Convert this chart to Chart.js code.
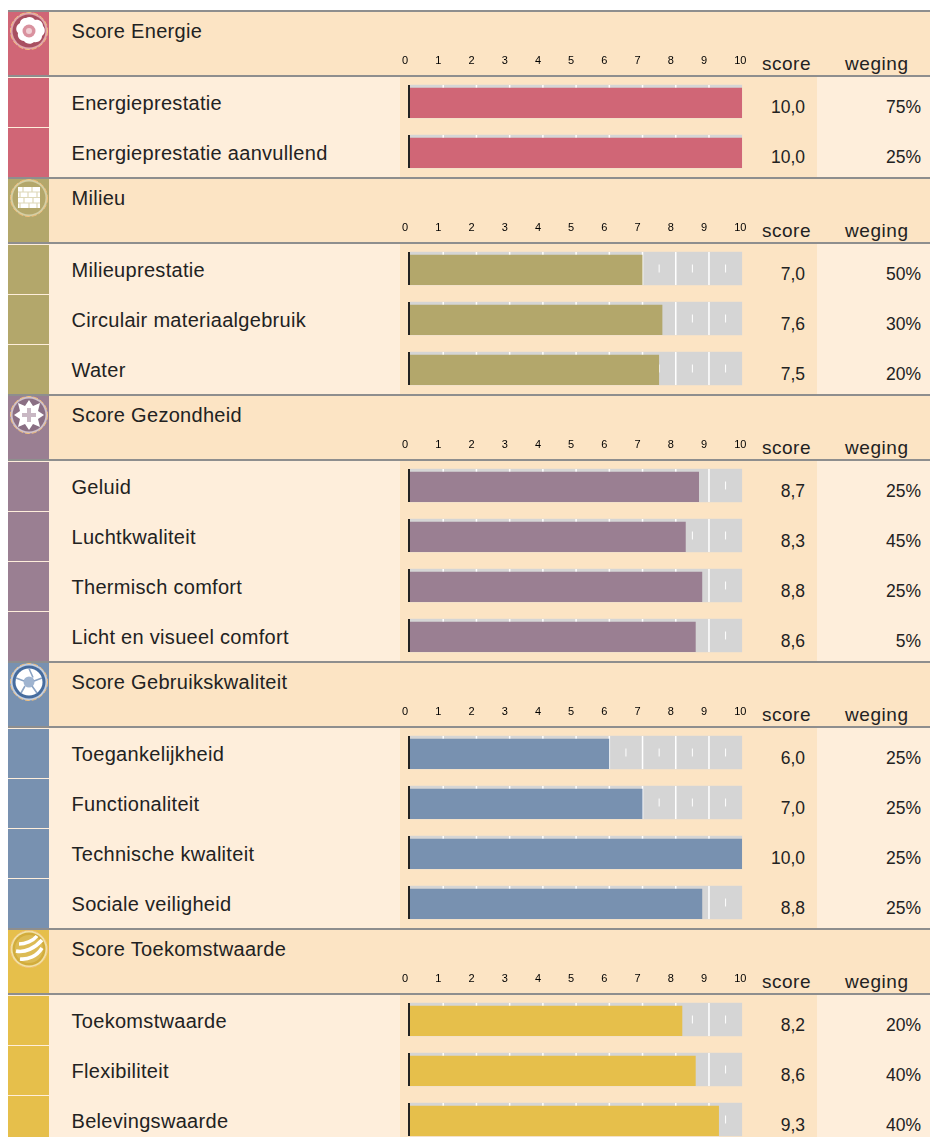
<!DOCTYPE html>
<html>
<head>
<meta charset="utf-8">
<style>
html, body { margin: 0; padding: 0; width: 930px; height: 1137px; overflow: hidden; background: #fff; }
body { position: relative; font-family: "Liberation Sans", Arial, sans-serif; color: #222; filter: blur(0.4px); }
.box, .txt, canvas, svg { position: absolute; }
.txt { white-space: nowrap; line-height: 22px; height: 22px; }
</style>
</head>
<body>
<script src="https://cdn.jsdelivr.net/npm/chart.js"></script>
<script>
const axisTicks = [0, 1, 2, 3, 4, 5, 6, 7, 8, 9, 10];

const titles = ['Score Energie', 'Milieu', 'Score Gezondheid', 'Score Gebruikskwaliteit', 'Score Toekomstwaarde'];
const colors = ['#d06676', '#b3a76b', '#9a7f92', '#7891b0', '#e6bf4b'];
const discs = ['#a84f60', '#b3a76b', '#8a6f84', '#466c9e', '#d2ac3c'];
const rings = ['#e0a6ae', '#d5cfa5', '#cfc2cc', '#c3cfe0', '#f1e2a6'];

const energieLabels = ['Energieprestatie', 'Energieprestatie aanvullend'];
const energieScores = [10.0, 10.0];
const energieWeights = [75, 25];

const milieuLabels = ['Milieuprestatie', 'Circulair materiaalgebruik', 'Water'];
const milieuScores = [7.0, 7.6, 7.5];
const milieuWeights = [50, 30, 20];

const gezondLabels = ['Geluid', 'Luchtkwaliteit', 'Thermisch comfort', 'Licht en visueel comfort'];
const gezondScores = [8.7, 8.3, 8.8, 8.6];
const gezondWeights = [25, 45, 25, 5];

const gebruikLabels = ['Toegankelijkheid', 'Functionaliteit', 'Technische kwaliteit', 'Sociale veiligheid'];
const gebruikScores = [6.0, 7.0, 10.0, 8.8];
const gebruikWeights = [25, 25, 25, 25];

const toekomstLabels = ['Toekomstwaarde', 'Flexibiliteit', 'Belevingswaarde'];
const toekomstScores = [8.2, 8.6, 9.3];
const toekomstWeights = [20, 40, 40];

const allLabels = [energieLabels, milieuLabels, gezondLabels, gebruikLabels, toekomstLabels];
const allScores = [energieScores, milieuScores, gezondScores, gebruikScores, toekomstScores];
const allWeights = [energieWeights, milieuWeights, gezondWeights, gebruikWeights, toekomstWeights];

const HEADER = 67, ROW = 50;
const TRACK = '#d5d5d5', PALE = '#feeedb', BAND = '#fce4c4';

function box(x, y, w, h, bg) {
  const d = document.createElement('div');
  d.className = 'box';
  d.style.cssText = `left:${x}px;top:${y}px;width:${w}px;height:${h}px;background:${bg}`;
  document.body.appendChild(d);
}

function text(str, x, y, size, align, spacing) {
  const d = document.createElement('div');
  d.className = 'txt';
  d.textContent = str;
  d.style.top = y + 'px';
  d.style.fontSize = size + 'px';
  if (spacing) d.style.letterSpacing = spacing + 'px';
  if (align === 'right') d.style.right = (930 - x) + 'px';
  else d.style.left = x + 'px';
  document.body.appendChild(d);
}

// the little round icons top left of every section
function icon(i, y) {
  const shapes = [
    '<path d="M17 7c3-2 7-1 9 2 4-1 8 2 8 6 3 3 2 8-1 10 0 4-4 7-8 6-3 3-8 2-10-1-4 0-7-4-6-8-3-3-2-8 2-10 0-3 3-5 6-5z" fill="#fff"/><circle cx="20" cy="20" r="6.5" fill="#d9929f"/><circle cx="20" cy="20" r="3" fill="#f0d0d5"/>',
    '<rect x="9" y="9" width="22" height="21" fill="#fff"/><g stroke="#ded8b8" stroke-width="1.2"><path d="M9 14h22M9 19.5h22M9 25h22M14 9v5M23 9v5M11 14v5.5M19 14v5.5M28 14v5.5M15 19.5v5.5M24 19.5v5.5M11 25v5M20 25v5M28 25v5"/></g>',
    '<path d="M20 5l4 6 7-3-2 8 6 4-6 4 2 8-7-3-4 6-4-6-7 3 2-8-6-4 6-4-2-8 7 3z" fill="#fff"/><path d="M18 13h4v5h5v4h-5v5h-4v-5h-5v-4h5z" fill="#c9b8c4"/>',
    '<circle cx="20" cy="20" r="13.5" fill="#fff"/><circle cx="20" cy="20" r="5.5" fill="#9fb4d0"/><path d="M20 6.5l4 9M33 16l-8 3M28 31l-5-7M12 31l4-7M7 16l8 3" stroke="#8aa3c4" stroke-width="1.6"/>',
    '<circle cx="20" cy="20" r="14" fill="#dcbb55"/><path d="M10 15c6 0 14-3 18-8M7 22c9 2 19-3 26-11M11 30c8 1 17-3 22-11" stroke="#fff" stroke-width="3.6" fill="none"/>'
  ];
  const s = document.createElementNS('http://www.w3.org/2000/svg', 'svg');
  s.setAttribute('width', 40);
  s.setAttribute('height', 40);
  s.style.left = '8.5px';
  s.style.top = (y + 0.5) + 'px';
  s.innerHTML = `<circle cx="20" cy="20" r="18.5" fill="${rings[i]}" stroke="#f2bf7c" stroke-width="1" stroke-dasharray="5 2"/>`
    + `<circle cx="20" cy="20" r="16.5" fill="${discs[i]}"/>` + shapes[i];
  document.body.appendChild(s);
}

// gridlines have to sit between the grey track and the coloured bar
const trackMarks = {
  id: 'trackMarks',
  beforeDatasetDraw(chart, args) {
    if (args.index !== 0) return;
    const ctx = chart.ctx, x = chart.scales.x;
    ctx.save();
    chart.getDatasetMeta(1).data.forEach(bar => {
      const top = bar.y - bar.height / 2, bottom = bar.y + bar.height / 2;
      ctx.fillStyle = '#fff';
      x.ticks.forEach(t => {
        if (t.value > 0 && t.value < 10) ctx.fillRect(x.getPixelForValue(t.value) - 0.75, top, 1.5, bottom - top);
        if (t.value < 10) ctx.fillRect(x.getPixelForValue(t.value + 0.5) - 0.5, bar.y - 4, 1, 8);
      });
      ctx.fillStyle = '#222';
      ctx.fillRect(x.getPixelForValue(0) - 2, top, 2, bottom - top);
    });
    ctx.restore();
  }
};

function section(i, top) {
  const labels = allLabels[i], scores = allScores[i], weights = allWeights[i];
  const n = labels.length, height = HEADER + n * ROW;

  box(49, top, 881, HEADER, BAND);
  box(8, top, 41, height, colors[i]);
  box(49, top + HEADER, 881, n * ROW, PALE);
  box(400, top + HEADER, 417, n * ROW, BAND);
  box(8, top, 922, 2, '#8e8e8e');
  box(8, top + 65, 922, 2, '#8e8e8e');
  box(8, top + 67, 41, 1, PALE);
  for (let r = 1; r < n; r++) box(8, top + HEADER + r * ROW, 41, 1, PALE);

  icon(i, top);
  text(titles[i], 71.5, top + 10, 20, 'left', 0.3);
  text('score', 762, top + 43, 19, 'left', 0.5);
  text('weging', 845, top + 43, 19, 'left', 0.55);

  labels.forEach((l, r) => {
    const y = top + HEADER + r * ROW;
    text(l, 71.5, y + 15, 20, 'left', 0.3);
    text(scores[r].toFixed(1).replace('.', ','), 805, y + 19, 17.5, 'right');
    text(weights[r] + '%', 921, y + 19, 17.5, 'right');
  });

  const c = document.createElement('canvas');
  c.width = 365;
  c.height = height;
  c.style.left = '393px';
  c.style.top = top + 'px';
  document.body.appendChild(c);

  new Chart(c, {
    type: 'bar',
    data: {
      labels: labels,
      datasets: [{
        data: scores,
        backgroundColor: colors[i],
        borderColor: 'rgba(0,0,0,0)',
        borderWidth: { top: 3, left: 0, right: 0, bottom: 0 },
        borderSkipped: false,
        barThickness: 33,
        grouped: false
      }, {
        data: labels.map(() => 10),
        backgroundColor: TRACK,
        barThickness: 33,
        grouped: false
      }]
    },
    options: {
      indexAxis: 'y',
      responsive: false,
      animation: false,
      layout: { padding: { left: 17, right: 15.8, top: 0, bottom: 0.5 } },
      plugins: { legend: { display: false }, tooltip: { enabled: false } },
      scales: {
        x: {
          type: 'linear',
          position: 'top',
          min: axisTicks[0],
          max: axisTicks[axisTicks.length - 1],
          afterFit(s) { s.height = HEADER - 0.5; },
          afterBuildTicks(s) { s.ticks = axisTicks.map(v => ({ value: v })); },
          grid: { display: false },
          border: { display: false },
          ticks: {
            autoSkip: false,
            maxRotation: 0,
            align: 'start',
            labelOffset: -8,
            padding: 1,
            color: '#000',
            font: { family: '"Liberation Sans", Arial, sans-serif', size: 11 }
          }
        },
        y: { display: false, grid: { display: false } }
      }
    },
    plugins: [trackMarks]
  });
}

const tops = [10, 177, 394, 661, 928];
tops.forEach((t, i) => section(i, t));
</script>
</body>
</html>
